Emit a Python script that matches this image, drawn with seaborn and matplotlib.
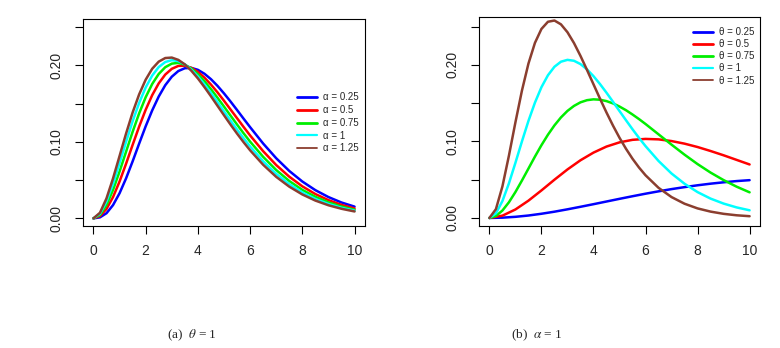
import pandas as pd
import matplotlib
matplotlib.use("Agg")
import matplotlib.pyplot as plt
import seaborn as sns

# x grids: finer steps where the curves bend most
x_fine = [0, 0.25, 0.5, 0.75, 1, 1.25, 1.5, 1.75, 2, 2.25, 2.5, 2.75, 3, 3.25, 3.5, 3.75,
          4, 4.25, 4.5, 4.75, 5, 5.25, 5.5, 5.75, 6, 6.5, 7, 7.5, 8, 8.5, 9, 9.5, 10]
x_coarse = [0, 0.5, 1, 1.5, 2, 2.5, 3, 3.5, 4, 4.5, 5,
            5.5, 6, 6.5, 7, 7.5, 8, 8.5, 9, 9.5, 10]

# (a) theta = 1, alpha varies (on x_fine)
alpha_labels = ["α = 0.25", "α = 0.5", "α = 0.75", "α = 1", "α = 1.25"]
dens_alpha_025 = [0, 0.0013, 0.0067, 0.0173, 0.0328, 0.0523, 0.0744, 0.0976, 0.1202, 0.1410, 0.1591,
                  0.1739, 0.1850, 0.1924, 0.1961, 0.1965, 0.1940, 0.1889, 0.1818, 0.1731, 0.1632,
                  0.1526, 0.1415, 0.1302, 0.1191, 0.0977, 0.0785, 0.0619, 0.0481, 0.0368, 0.0278,
                  0.0207, 0.0153]
dens_alpha_05 = [0, 0.0029, 0.0123, 0.0278, 0.0481, 0.0714, 0.0959, 0.1198, 0.1418, 0.1609, 0.1763,
                 0.1878, 0.1953, 0.1991, 0.1994, 0.1966, 0.1913, 0.1838, 0.1748, 0.1646, 0.1536,
                 0.1422, 0.1308, 0.1194, 0.1083, 0.0877, 0.0696, 0.0544, 0.0418, 0.0317, 0.0238,
                 0.0176, 0.0129]
dens_alpha_075 = [0, 0.0045, 0.0175, 0.0371, 0.0611, 0.0871, 0.1130, 0.1371, 0.1582, 0.1755, 0.1886,
                  0.1974, 0.2021, 0.2031, 0.2007, 0.1956, 0.1883, 0.1792, 0.1688, 0.1576, 0.1460,
                  0.1342, 0.1225, 0.1111, 0.1002, 0.0803, 0.0631, 0.0488, 0.0372, 0.0281, 0.0209,
                  0.0154, 0.0112]
dens_alpha_1 = [0, 0.0060, 0.0221, 0.0452, 0.0721, 0.1000, 0.1268, 0.1507, 0.1709, 0.1865, 0.1976,
                0.2042, 0.2066, 0.2054, 0.2011, 0.1942, 0.1853, 0.1750, 0.1637, 0.1518, 0.1397,
                0.1277, 0.1159, 0.1046, 0.0939, 0.0745, 0.0581, 0.0447, 0.0338, 0.0253, 0.0188,
                0.0138, 0.0100]
dens_alpha_125 = [0, 0.0073, 0.0261, 0.0521, 0.0814, 0.1108, 0.1382, 0.1619, 0.1811, 0.1954, 0.2047,
                  0.2094, 0.2100, 0.2070, 0.2011, 0.1928, 0.1828, 0.1715, 0.1595, 0.1471, 0.1347,
                  0.1225, 0.1107, 0.0995, 0.0889, 0.0700, 0.0542, 0.0414, 0.0312, 0.0232, 0.0171,
                  0.0125, 0.0090]

# (b) alpha = 1, theta varies (0.25 and 0.5 on x_coarse, the rest on x_fine)
theta_labels = ["θ = 0.25", "θ = 0.5", "θ = 0.75", "θ = 1", "θ = 1.25"]
dens_theta_025 = [0, 0.0004, 0.0015, 0.0032, 0.0055, 0.0082, 0.0113, 0.0146, 0.0180, 0.0215, 0.0250,
                  0.0284, 0.0317, 0.0348, 0.0377, 0.0403, 0.0427, 0.0448, 0.0466, 0.0482, 0.0494]
dens_theta_05 = [0, 0.0030, 0.0111, 0.0226, 0.0360, 0.0500, 0.0634, 0.0754, 0.0854, 0.0933, 0.0988,
                 0.1021, 0.1033, 0.1027, 0.1005, 0.0971, 0.0927, 0.0875, 0.0819, 0.0759, 0.0699]
dens_theta_075 = [0, 0.0026, 0.0097, 0.0205, 0.0339, 0.0489, 0.0645, 0.0802, 0.0951, 0.1088, 0.1210,
                  0.1314, 0.1399, 0.1464, 0.1511, 0.1539, 0.1550, 0.1545, 0.1527, 0.1497, 0.1456,
                  0.1408, 0.1352, 0.1292, 0.1228, 0.1093, 0.0958, 0.0827, 0.0704, 0.0593, 0.0495,
                  0.0409, 0.0335]
dens_theta_1 = [0, 0.0060, 0.0221, 0.0452, 0.0721, 0.1000, 0.1268, 0.1507, 0.1709, 0.1865, 0.1976,
                0.2042, 0.2066, 0.2054, 0.2011, 0.1942, 0.1853, 0.1750, 0.1637, 0.1518, 0.1397,
                0.1277, 0.1159, 0.1046, 0.0939, 0.0745, 0.0581, 0.0447, 0.0338, 0.0253, 0.0188,
                0.0138, 0.0100]
dens_theta_125 = [0, 0.0115, 0.0412, 0.0814, 0.1250, 0.1664, 0.2017, 0.2288, 0.2470, 0.2564, 0.2580,
                  0.2530, 0.2427, 0.2286, 0.2118, 0.1935, 0.1747, 0.1559, 0.1378, 0.1207, 0.1048,
                  0.0904, 0.0774, 0.0659, 0.0558, 0.0394, 0.0273, 0.0186, 0.0125, 0.0083, 0.0054,
                  0.0035, 0.0023]

colores = ["#0000FF", "#FF0000", "#00EE00", "#00FFFF", "#8B3E2F"]
lw_leyenda = [2.0, 2.0, 2.0, 1.6, 1.3]

sns.set_style("ticks")
plt.rcParams['font.family'] = ['Liberation Sans', 'DejaVu Sans']
plt.rcParams['mathtext.fontset'] = 'stix'

fig = plt.figure(figsize=(7.8, 3.48), dpi=100)
ax1 = fig.add_axes([83 / 780, 1 - 226 / 348, 282 / 780, 206.7 / 348])
ax2 = fig.add_axes([479 / 780, 1 - 226 / 348, 281 / 780, 209.3 / 348])

panel_a = [(x_fine, dens_alpha_025), (x_fine, dens_alpha_05), (x_fine, dens_alpha_075),
           (x_fine, dens_alpha_1), (x_fine, dens_alpha_125)]
panel_b = [(x_coarse, dens_theta_025), (x_coarse, dens_theta_05), (x_fine, dens_theta_075),
           (x_fine, dens_theta_1), (x_fine, dens_theta_125)]

for ax, series, labels in [(ax1, panel_a, alpha_labels), (ax2, panel_b, theta_labels)]:
    for (xs, y), lab, c in zip(series, labels, colores):
        df = pd.DataFrame({'x': xs, 'y': y})
        sns.lineplot(data=df, x='x', y='y', color=c, linewidth=1.8, label=lab, ax=ax)
    ax.set_xlim(-0.4, 10.4)
    ax.set_xticks([0, 2, 4, 6, 8, 10])
    ax.set_yticks([0, 0.05, 0.10, 0.15, 0.20, 0.25])
    ax.set_yticklabels(["0.00", "", "0.10", "", "0.20", ""])
    ax.set_xlabel("")
    ax.set_ylabel("")
    ax.tick_params(axis='both', length=6, width=0.8, labelsize=10, color='black')
    ax.tick_params(axis='x', pad=7)
    ax.tick_params(axis='y', pad=8, labelrotation=90)
    for t in ax.get_yticklabels():
        t.set_va('center')
    for s in ax.spines.values():
        s.set_visible(True)
        s.set_linewidth(0.8)
        s.set_color('black')

ax1.set_ylim(-0.01, 0.26)
ax2.set_ylim(-0.0105, 0.263)

leg1 = ax1.legend(loc='upper left', bbox_to_anchor=(297 / 780, 1 - 92.5 / 348),
                  bbox_transform=fig.transFigure, frameon=False, borderpad=0,
                  borderaxespad=0, handlelength=2.1, handletextpad=0.6,
                  labelspacing=0.28, fontsize=7)
leg2 = ax2.legend(loc='upper left', bbox_to_anchor=(693 / 780, 1 - 27 / 348),
                  bbox_transform=fig.transFigure, frameon=False, borderpad=0,
                  borderaxespad=0, handlelength=2.1, handletextpad=0.6,
                  labelspacing=0.22, fontsize=7)
for leg in [leg1, leg2]:
    for ln, w in zip(leg.get_lines(), lw_leyenda):
        ln.set_linewidth(w)

fig.text(192 / 780, 1 - 335.5 / 348, "(a)  $\\theta$ = 1", ha='center', va='center',
         fontsize=9.5, family='Liberation Serif')
fig.text(537 / 780, 1 - 335.5 / 348, "(b)  $\\alpha$ = 1", ha='center', va='center',
         fontsize=9.5, family='Liberation Serif')

fig.savefig('out.png', dpi=100)
